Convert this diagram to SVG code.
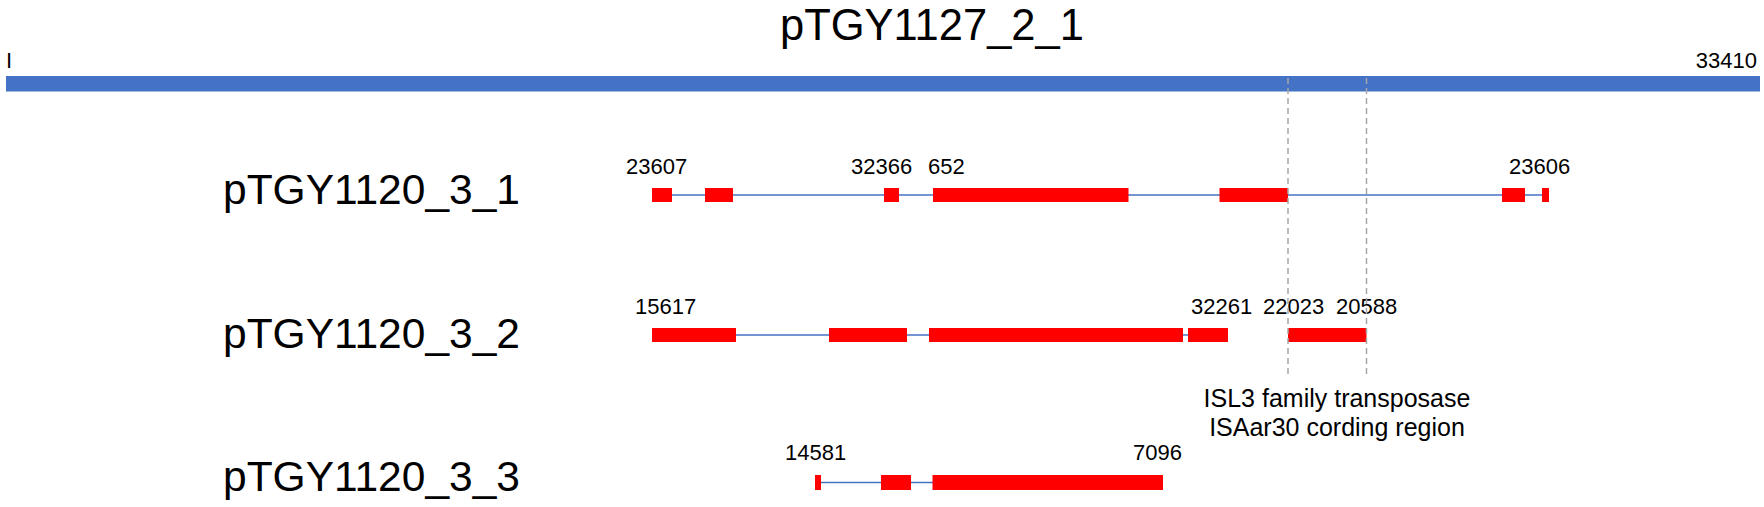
<svg xmlns="http://www.w3.org/2000/svg" width="1764" height="507" viewBox="0 0 1764 507">
<style>
text{font-family:"Liberation Sans",Arial,sans-serif;fill:#000}
.big{font-size:42.5px}
.ttl{font-size:43.5px}
.num{font-size:22px}
.ann{font-size:25px;text-anchor:middle}
.seg{fill:#FF0000}
.ln{stroke:#4472C4;stroke-width:1.6;fill:none}
.dash{stroke:#A6A6A6;stroke-width:1.5;stroke-dasharray:6 4;fill:none}
</style>
<rect width="1764" height="507" fill="#FFFFFF"/>
<g id="title"><text class="ttl" x="780" y="40">pTGY1127_2_1</text></g>
<g id="reference">
<rect x="6" y="76" width="1754" height="15.5" fill="#4472C4"/>
<text class="num" x="6" y="67.5">I</text>
<text class="num" x="1757" y="67.5" text-anchor="end">33410</text>
</g>
<g id="row1">
<text class="big" x="223" y="204">pTGY1120_3_1</text>
<line class="ln" x1="652" y1="195" x2="1549" y2="195"/>
<rect class="seg" x="652" y="188" width="20" height="14"/>
<rect class="seg" x="705" y="188" width="28" height="14"/>
<rect class="seg" x="884" y="188" width="15" height="14"/>
<rect class="seg" x="933" y="188" width="195.5" height="14"/>
<rect class="seg" x="1219.5" y="188" width="68.5" height="14"/>
<rect class="seg" x="1502" y="188" width="23" height="14"/>
<rect class="seg" x="1542" y="188" width="7" height="14"/>
<text class="num" x="626" y="174">23607</text>
<text class="num" x="851" y="174">32366</text>
<text class="num" x="928" y="174">652</text>
<text class="num" x="1509" y="174">23606</text>
</g>
<g id="row2">
<text class="big" x="223" y="348">pTGY1120_3_2</text>
<line class="ln" x1="652" y1="335" x2="1228" y2="335"/>
<rect class="seg" x="652" y="328" width="84" height="14"/>
<rect class="seg" x="829" y="328" width="78" height="14"/>
<rect class="seg" x="929" y="328" width="254" height="14"/>
<rect class="seg" x="1188" y="328" width="40" height="14"/>
<rect class="seg" x="1288" y="328" width="78.5" height="14"/>
<text class="num" x="635" y="314">15617</text>
<text class="num" x="1191" y="314">32261</text>
<text class="num" x="1263" y="314">22023</text>
<text class="num" x="1336" y="314">20588</text>
</g>
<g id="row3">
<text class="big" x="223" y="491">pTGY1120_3_3</text>
<line class="ln" x1="815" y1="482.5" x2="933" y2="482.5"/>
<rect class="seg" x="815" y="475" width="6" height="15"/>
<rect class="seg" x="881" y="475" width="30" height="15"/>
<rect class="seg" x="932.5" y="475" width="230.5" height="15"/>
<text class="num" x="785" y="460">14581</text>
<text class="num" x="1182" y="460" text-anchor="end">7096</text>
</g>
<g id="annotation">
<text class="ann" x="1337" y="407">ISL3 family transposase</text>
<text class="ann" x="1337" y="436">ISAar30 cording region</text>
</g>
<g id="connectors">
<line class="dash" x1="1288" y1="78" x2="1288" y2="378"/>
<line class="dash" x1="1366.5" y1="78" x2="1366.5" y2="378"/>
</g>
</svg>
